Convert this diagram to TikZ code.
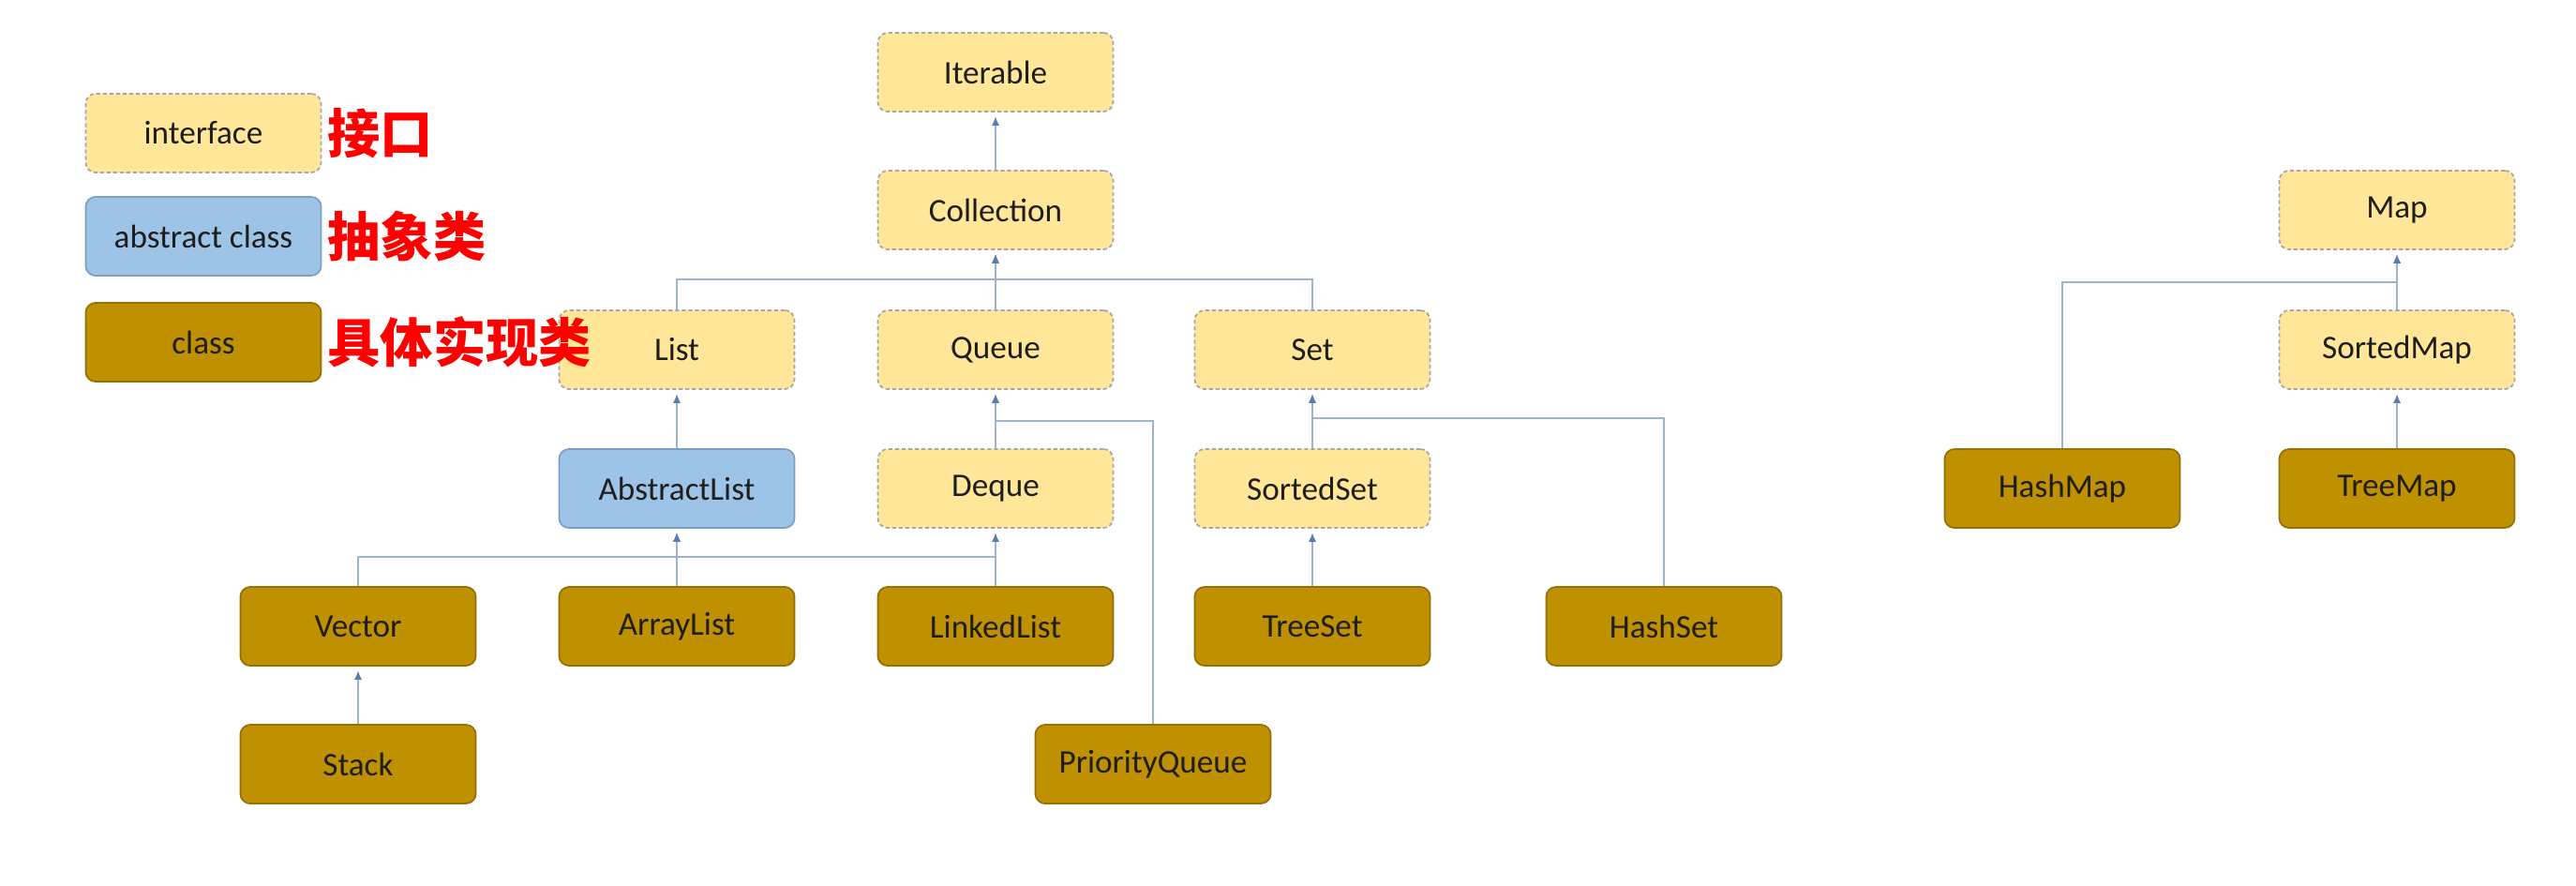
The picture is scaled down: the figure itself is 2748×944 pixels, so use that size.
\documentclass[tikz,border=0pt]{standalone}
\usepackage{fontspec}
\setmainfont{Carlito}
\newfontfamily\cjk{Noto Sans CJK SC}
\usetikzlibrary{arrows.meta}
\definecolor{ifill}{HTML}{FFE699}
\definecolor{idraw}{HTML}{A6A6A6}
\definecolor{afill}{HTML}{9DC3E6}
\definecolor{adraw}{HTML}{7E9FC4}
\definecolor{cfill}{HTML}{BF9000}
\definecolor{cdraw}{HTML}{94700A}
\definecolor{lnk}{HTML}{A0B3CE}
\definecolor{tipc}{HTML}{5A7BB0}
\definecolor{txt}{HTML}{1E1E1E}
\definecolor{lab}{HTML}{FF0000}
\begin{document}
\begin{tikzpicture}[x=0.01cm,y=-0.01cm,
 box/.style={rounded corners=3pt, minimum width=2.51cm, minimum height=0.84cm, text=txt, font=\fontsize{10}{12}\selectfont, line width=0.5pt, inner sep=0pt},
 iface/.style={box, fill=ifill, draw=idraw, dash pattern=on 1.2pt off 0.8pt},
 absc/.style={box, fill=afill, draw=adraw},
 cls/.style={box, fill=cfill, draw=cdraw},
 lbl/.style={anchor=west, text=lab, font=\cjk\bfseries\fontsize{16}{18}\selectfont, inner sep=0pt},
 conn/.style={draw=lnk, line width=0.6pt, shorten >=1.2pt, -{Latex[length=2.8pt,width=2.4pt,color=tipc]}}
]
\useasboundingbox (0,0) rectangle (2748,944);

% legend
\node[iface] (lgI) at (217,142) {interface};
\node[absc]  (lgA) at (217,252) {abstract class};
\node[cls]   (lgC) at (217,365) {class};

% collection hierarchy
\node[iface] (Iterable)   at (1062,77)  {Iterable};
\node[iface] (Collection) at (1062,224) {Collection};
\node[iface] (List)       at (722,373)  {List};
\node[iface] (Queue)      at (1062,373) {Queue};
\node[iface] (Set)        at (1400,373) {Set};
\node[absc]  (AbstractList) at (722,521) {AbstractList};
\node[iface] (Deque)      at (1062,521) {Deque};
\node[iface] (SortedSet)  at (1400,521) {SortedSet};
\node[cls]   (Vector)     at (382,668)  {Vector};
\node[cls]   (ArrayList)  at (722,668)  {ArrayList};
\node[cls]   (LinkedList) at (1062,668) {LinkedList};
\node[cls]   (TreeSet)    at (1400,668) {TreeSet};
\node[cls]   (HashSet)    at (1775,668) {HashSet};
\node[cls]   (Stack)      at (382,815)  {Stack};
\node[cls]   (PriorityQueue) at (1230,815) {PriorityQueue};

% map hierarchy
\node[iface] (Map)       at (2557,224) {Map};
\node[iface] (SortedMap) at (2557,373) {SortedMap};
\node[cls]   (HashMap)   at (2200,521) {HashMap};
\node[cls]   (TreeMap)   at (2557,521) {TreeMap};

% junction levels
\coordinate (jC) at (0,298);
\coordinate (jQ) at (0,449);
\coordinate (jS) at (0,446);
\coordinate (jA) at (0,594);
\coordinate (jM) at (0,301);

\draw[conn] (Collection.north) -- (Iterable.south);
\draw[conn] (List.north) |- (Collection.south |- jC) -- (Collection.south);
\draw[conn] (Queue.north) -- (Collection.south);
\draw[conn] (Set.north) |- (Collection.south |- jC) -- (Collection.south);
\draw[conn] (AbstractList.north) -- (List.south);
\draw[conn] (Deque.north) -- (Queue.south);
\draw[conn] (PriorityQueue.north) |- (Queue.south |- jQ) -- (Queue.south);
\draw[conn] (SortedSet.north) -- (Set.south);
\draw[conn] (HashSet.north) |- (Set.south |- jS) -- (Set.south);
\draw[conn] (Vector.north) |- (AbstractList.south |- jA) -- (AbstractList.south);
\draw[conn] (ArrayList.north) -- (AbstractList.south);
\draw[conn] (LinkedList.north) |- (AbstractList.south |- jA) -- (AbstractList.south);
\draw[conn] (LinkedList.north) -- (Deque.south);
\draw[conn] (TreeSet.north) -- (SortedSet.south);
\draw[conn] (Stack.north) -- (Vector.south);
\draw[conn] (SortedMap.north) -- (Map.south);
\draw[conn] (HashMap.north) |- (Map.south |- jM) -- (Map.south);
\draw[conn] (TreeMap.north) -- (SortedMap.south);

% legend labels
\node[lbl] (lbI) at (349,142) {接口};
\node[lbl] (lbA) at (349,252) {抽象类};
\node[lbl] (lbC) at (349,365) {具体实现类};
\end{tikzpicture}
\end{document}
